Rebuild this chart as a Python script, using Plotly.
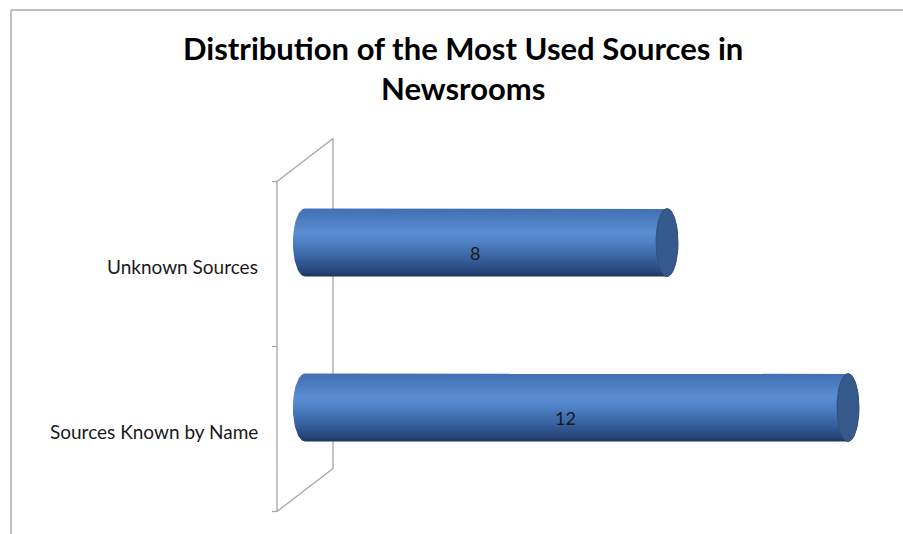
import numpy as np
import plotly.graph_objects as go

# Chart content
title_lines = ["Distribution of the Most Used Sources in", "Newsrooms"]
categories = ["Sources Known by Name", "Unknown Sources"]  # bottom to top
values = [12, 8]

W, H = 903, 534

# Pixel geometry of the pseudo-3D plot
ZERO_PX = 305.0        # x pixel of value 0 on the cylinder axis (mid depth)
PX_PER_UNIT = 45.25    # horizontal pixels per unit of value
CAT0_PX = 429.0        # y pixel of the first category on the front plane
PX_PER_CAT = 165.0     # vertical pixels between categories
DEPTH_DX = 56.0        # front-to-back wall shift (px)
DEPTH_DY = -43.0
CYL_HALF_H = 34.0      # cylinder radius (px)
CAP_HALF_W = 11.0      # half-width of the elliptical ends (px)

# Axis ranges so that data units land on those pixels (plot area = full page)
x0 = -ZERO_PX / PX_PER_UNIT
x1 = x0 + W / PX_PER_UNIT
y_bottom = (CAT0_PX - H) / PX_PER_CAT
y_top = CAT0_PX / PX_PER_CAT

dx_half = (DEPTH_DX / 2) / PX_PER_UNIT
dy_half = (-DEPTH_DY / 2) / PX_PER_CAT
rad = CYL_HALF_H / PX_PER_CAT
cap_a = CAP_HALF_W / PX_PER_UNIT

wall_color = "#A6A6A6"
fig = go.Figure()

# Back wall / floor outline
front_x = -dx_half
back_x = dx_half
n = len(categories)
front_lo, front_hi = -0.5, n - 0.5
back_lo, back_hi = front_lo + 2 * dy_half, front_hi + 2 * dy_half
wall_x = [front_x, back_x, back_x, front_x, front_x]
wall_y = [front_hi, back_hi, back_lo, front_lo, front_hi]
fig.add_trace(go.Scatter(x=wall_x, y=wall_y, mode="lines",
                         line=dict(color=wall_color, width=1.3),
                         hoverinfo="skip", showlegend=False))
# category tick marks on the front edge
tick_len = 5 / PX_PER_UNIT
for k in range(n + 1):
    yt = front_lo + k
    fig.add_trace(go.Scatter(x=[front_x - tick_len, front_x], y=[yt, yt], mode="lines",
                             line=dict(color=wall_color, width=1.3),
                             hoverinfo="skip", showlegend=False))

body_scale = [
    [0.00, "#1d355c"],
    [0.07, "#27457a"],
    [0.25, "#365f9c"],
    [0.50, "#4e81c5"],
    [0.65, "#5b8dd2"],
    [0.85, "#4b7cc0"],
    [1.00, "#4170b2"],
]

t = np.linspace(-np.pi / 2, np.pi / 2, 40)
for i, (cat, v) in enumerate(zip(categories, values)):
    yc = i + dy_half
    top, bot = yc + rad, yc - rad
    # body: left end bulges left, right end bulges right
    right_x = v + cap_a * np.cos(t[::-1])
    right_y = yc + rad * np.sin(t[::-1])
    left_x = 0 - 1.1 * cap_a * np.cos(t)
    left_y = yc + rad * np.sin(t)
    bx = np.concatenate([[0, v], right_x, [v, 0], left_x])
    by = np.concatenate([[top, top], right_y, [bot, bot], left_y])
    fig.add_trace(go.Scatter(
        x=bx, y=by, mode="lines", fill="toself",
        fillgradient=dict(type="vertical", colorscale=body_scale),
        line=dict(width=0), hoverinfo="skip", showlegend=False))
    # end cap
    th = np.linspace(0, 2 * np.pi, 80)
    fig.add_trace(go.Scatter(
        x=v + cap_a * np.cos(th), y=yc + rad * np.sin(th), mode="lines", fill="toself",
        fillcolor="#35598b", line=dict(color="#2f5180", width=1),
        hoverinfo="skip", showlegend=False))
    # value label
    fig.add_annotation(x=v / 2, y=yc, text=str(v), showarrow=False,
                       xshift=-11, yshift=-10,
                       font=dict(family="Lato", size=18, color="#1a1a1a"))
    # category label on the front plane
    fig.add_annotation(x=front_x, y=i, text=cat, showarrow=False,
                       xanchor="right", xshift=-17, yshift=-2,
                       font=dict(family="Lato", size=19, color="#1a1a1a"))

# Title (two lines)
for line, ypx in zip(title_lines, [48, 88]):
    fig.add_annotation(xref="paper", yref="paper", x=463 / W, y=1 - ypx / H,
                       text="<b>" + line + "</b>", showarrow=False,
                       xanchor="center", yanchor="middle",
                       font=dict(family="Lato", size=31, color="#000000"))

# Chart area border (top and left edges visible)
border = "#BFBFBF"
fig.add_shape(type="line", xref="paper", yref="paper", x0=11 / W, x1=1.01, y0=1 - 10 / H, y1=1 - 10 / H,
              line=dict(color=border, width=2))
fig.add_shape(type="line", xref="paper", yref="paper", x0=11 / W, x1=11 / W, y0=1 - 10 / H, y1=-0.01,
              line=dict(color=border, width=2))

fig.update_layout(
    width=W, height=H,
    margin=dict(l=0, r=0, t=0, b=0, pad=0),
    paper_bgcolor="white", plot_bgcolor="white",
    xaxis=dict(range=[x0, x1], visible=False, fixedrange=True),
    yaxis=dict(range=[y_bottom, y_top], visible=False, fixedrange=True),
    showlegend=False,
)

fig.write_html("out.html")
